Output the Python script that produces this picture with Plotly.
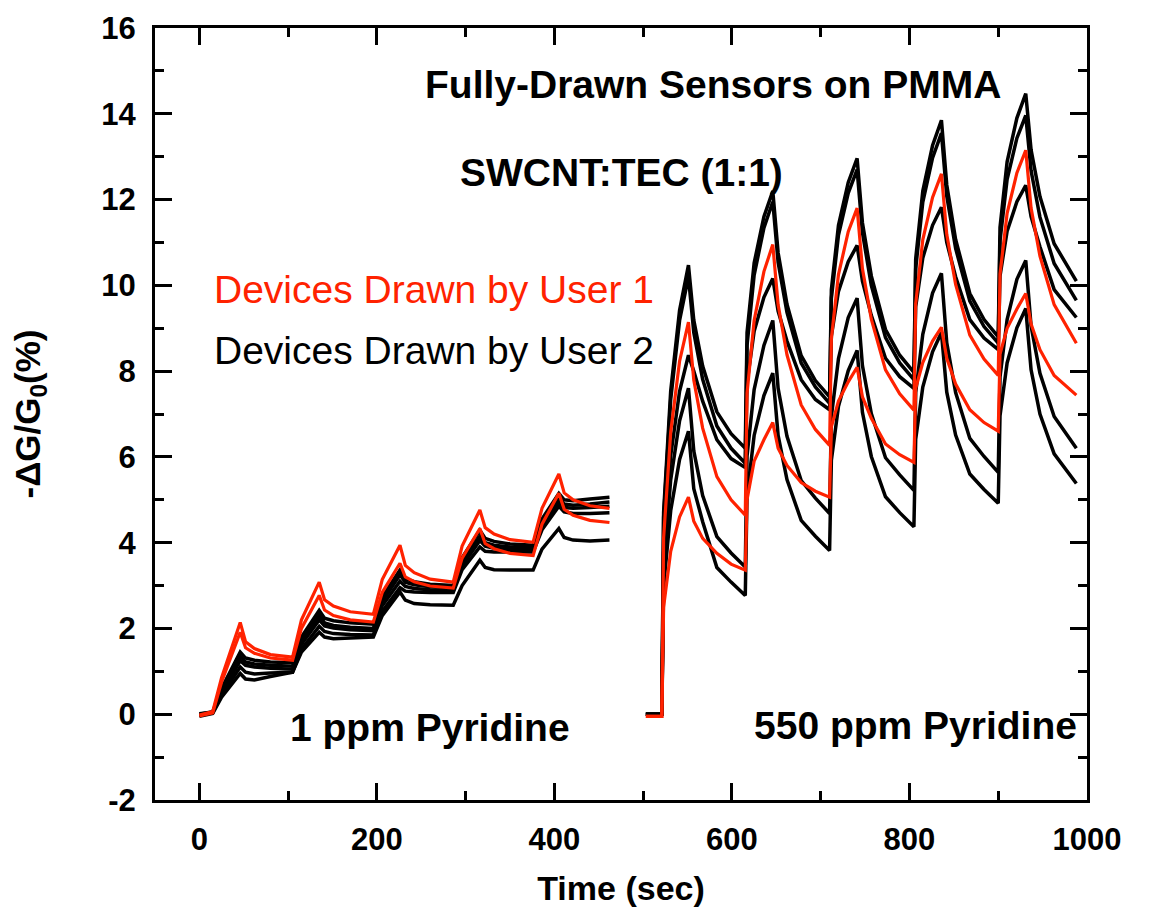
import plotly.graph_objects as go

# ---- 1 ppm pyridine run (time in sec, response in %) ----
t_1ppm = [0, 15, 25, 46, 52, 62, 80, 105, 115, 135, 141, 151, 170, 196, 206, 226, 232, 242, 260,
          286, 296, 316, 322, 332, 350, 376, 386, 405, 411, 421, 440, 462]

user1_a_1ppm = [-0.02, 0.06, 0.85, 2.14, 1.69, 1.53, 1.39, 1.33, 2.2, 3.08, 2.67, 2.52, 2.39, 2.33, 3.14, 3.94,
                3.47, 3.3, 3.15, 3.08, 3.92, 4.76, 4.35, 4.2, 4.07, 4.01, 4.8, 5.6, 5.16, 5.0, 4.86, 4.8]
user1_b_1ppm = [-0.04, 0.03, 0.75, 1.91, 1.55, 1.42, 1.31, 1.26, 2.0, 2.77, 2.43, 2.3, 2.2, 2.15, 2.84, 3.52,
                3.2, 3.09, 2.99, 2.94, 3.64, 4.33, 3.98, 3.86, 3.75, 3.7, 4.43, 5.15, 4.78, 4.64, 4.52, 4.47]
user2_a_1ppm = [0.0, 0.05, 0.6, 1.45, 1.31, 1.26, 1.22, 1.2, 1.8, 2.42, 2.24, 2.18, 2.13, 2.1, 2.73, 3.36,
                3.16, 3.09, 3.03, 3.0, 3.65, 4.29, 4.1, 4.03, 3.97, 3.94, 4.55, 5.15, 5.0, 4.98, 5.02, 5.06]
user2_b_1ppm = [-0.03, 0.04, 0.55, 1.35, 1.22, 1.17, 1.14, 1.12, 1.71, 2.3, 2.13, 2.07, 2.03, 2.0, 2.63, 3.25,
                3.08, 3.02, 2.97, 2.95, 3.55, 4.15, 4.0, 3.94, 3.9, 3.88, 4.47, 5.05, 4.9, 4.87, 4.9, 4.95]
user2_c_1ppm = [0.01, 0.05, 0.5, 1.25, 1.14, 1.1, 1.07, 1.05, 1.63, 2.2, 2.06, 2.01, 1.97, 1.95, 2.53, 3.1,
                2.98, 2.93, 2.9, 2.88, 3.46, 4.05, 3.92, 3.87, 3.84, 3.82, 4.38, 4.95, 4.82, 4.8, 4.82, 4.85]
user2_d_1ppm = [-0.02, 0.04, 0.45, 1.1, 0.98, 0.94, 0.96, 0.98, 1.52, 2.05, 1.93, 1.88, 1.86, 1.85, 2.4, 2.95,
                2.87, 2.85, 2.84, 2.84, 3.37, 3.9, 3.8, 3.78, 3.78, 3.78, 4.3, 4.85, 4.72, 4.68, 4.68, 4.7]
user2_e_1ppm = [-0.05, 0.02, 0.4, 0.95, 0.82, 0.8, 0.88, 0.98, 1.45, 1.91, 1.8, 1.76, 1.78, 1.8, 2.3, 2.85,
                2.66, 2.58, 2.55, 2.54, 3.0, 3.59, 3.42, 3.37, 3.36, 3.36, 3.85, 4.33, 4.12, 4.06, 4.04, 4.06]

# ---- 550 ppm pyridine run ----
t_550ppm = [503, 521, 523, 531, 541, 551, 557, 567, 583, 599,
            615, 617, 625, 636, 646, 652, 662, 678, 694,
            710, 712, 720, 731, 741, 747, 757, 773, 789,
            805, 807, 815, 826, 836, 842, 852, 868, 884,
            900, 902, 910, 921, 931, 937, 947, 963, 988]

user1_a_550ppm = [-0.05, -0.05, 4.11, 6.58, 8.23, 9.14, 7.79, 6.67, 5.54, 5.0,
                  4.64, 7.48, 9.18, 10.32, 10.95, 9.55, 8.38, 7.21, 6.64,
                  6.27, 8.76, 10.25, 11.25, 11.8, 10.39, 9.21, 8.03, 7.47,
                  7.09, 9.57, 11.06, 12.05, 12.6, 11.19, 10.02, 8.84, 8.28,
                  7.9, 10.26, 11.68, 12.62, 13.15, 11.8, 10.68, 9.55, 8.65]
user1_b_550ppm = [-0.05, -0.05, 2.5, 3.8, 4.6, 5.06, 4.5, 4.1, 3.75, 3.5,
                  3.36, 5.0, 5.9, 6.4, 6.8, 6.2, 5.8, 5.4, 5.2,
                  5.06, 6.7, 7.3, 7.75, 8.09, 7.4, 6.9, 6.3, 6.05,
                  5.87, 7.6, 8.2, 8.7, 9.02, 8.3, 7.7, 7.1, 6.8,
                  6.6, 8.4, 9.0, 9.45, 9.81, 9.1, 8.5, 7.9, 7.44]
user2_a_550ppm = [0, 0, 4.71, 7.54, 9.42, 10.47, 9.19, 8.12, 7.05, 6.54,
                  6.2, 8.9, 10.52, 11.6, 12.2, 10.76, 9.56, 8.36, 7.78,
                  7.4, 9.9, 11.4, 12.4, 12.96, 11.46, 10.22, 8.97, 8.37,
                  7.97, 10.62, 12.2, 13.26, 13.85, 12.34, 11.07, 9.81, 9.2,
                  8.8, 11.35, 12.88, 13.9, 14.47, 13.16, 12.07, 10.97, 10.1]
user2_b_550ppm = [0, 0, 4.59, 7.34, 9.18, 10.2, 8.9, 7.81, 6.72, 6.2,
                  5.85, 8.6, 10.24, 11.34, 11.95, 10.54, 9.37, 8.19, 7.63,
                  7.25, 9.7, 11.17, 12.15, 12.7, 11.23, 10.0, 8.78, 8.19,
                  7.8, 10.39, 11.94, 12.97, 13.55, 12.08, 10.86, 9.63, 9.04,
                  8.65, 11.04, 12.47, 13.43, 13.96, 12.67, 11.59, 10.51, 9.65]
user2_c_550ppm = [0, 0, 3.77, 6.03, 7.53, 8.37, 8.0, 7.3, 6.4, 5.96,
                  5.75, 7.73, 8.93, 9.72, 10.16, 9.4, 8.7, 7.8, 7.34,
                  7.1, 8.82, 9.86, 10.55, 10.93, 10.1, 9.3, 8.3, 7.87,
                  7.6, 9.5, 10.64, 11.4, 11.82, 11.0, 10.2, 9.2, 8.77,
                  8.5, 10.22, 11.26, 11.95, 12.33, 11.6, 10.9, 9.9, 9.25]
user2_d_550ppm = [0, 0, 3.42, 5.47, 6.84, 7.6, 6.14, 5.1, 4.14, 3.76,
                  3.43, 6.02, 7.57, 8.6, 9.18, 7.6, 6.48, 5.45, 5.04,
                  4.68, 6.94, 8.29, 9.25, 9.7, 8.13, 7.01, 5.98, 5.58,
                  5.22, 7.5, 8.86, 9.82, 10.28, 8.66, 7.5, 6.43, 6.01,
                  5.64, 7.86, 9.2, 10.14, 10.58, 9.05, 7.95, 6.94, 6.2]
user2_e_550ppm = [0, 0, 2.97, 4.75, 5.94, 6.6, 5.26, 4.49, 3.42, 3.08,
                  2.77, 5.1, 6.5, 7.43, 7.95, 6.5, 5.47, 4.52, 4.15,
                  3.82, 5.92, 7.18, 8.01, 8.48, 7.04, 6.01, 5.07, 4.7,
                  4.37, 6.41, 7.63, 8.45, 8.9, 7.51, 6.51, 5.6, 5.24,
                  4.92, 6.96, 8.19, 9.01, 9.46, 8.03, 7.0, 6.07, 5.38]

y_ticks = [-2, 0, 2, 4, 6, 8, 10, 12, 14, 16]
y_tick_labels = ["-2", "0", "2", "4", "6", "8", "10", "12", "14", "16"]

RED = "#ff2200"
BLACK = "#000000"
FONT = "Arial, Liberation Sans, sans-serif"

fig = go.Figure()

black_runs = [
    (t_1ppm, user2_a_1ppm), (t_1ppm, user2_b_1ppm), (t_1ppm, user2_c_1ppm),
    (t_1ppm, user2_d_1ppm), (t_1ppm, user2_e_1ppm),
    (t_550ppm, user2_a_550ppm), (t_550ppm, user2_b_550ppm), (t_550ppm, user2_c_550ppm),
    (t_550ppm, user2_d_550ppm), (t_550ppm, user2_e_550ppm),
]
red_runs = [
    (t_1ppm, user1_a_1ppm), (t_1ppm, user1_b_1ppm),
    (t_550ppm, user1_a_550ppm), (t_550ppm, user1_b_550ppm),
]

for t, y in black_runs:
    fig.add_trace(go.Scatter(x=t, y=y, mode="lines", line=dict(color=BLACK, width=3.5),
                             hoverinfo="skip"))
for t, y in red_runs:
    fig.add_trace(go.Scatter(x=t, y=y, mode="lines", line=dict(color=RED, width=3.2),
                             hoverinfo="skip"))

axis_common = dict(
    showline=True, linecolor="black", linewidth=3, mirror="ticks",
    ticks="inside", ticklen=17, tickwidth=2.5, tickcolor="black",
    showgrid=False, zeroline=False, automargin=False,
    tickfont=dict(family=FONT, size=31, color="black", weight="bold"),
    ticklabelstandoff=10,
)

fig.update_xaxes(
    range=[-50, 1000], dtick=200, tick0=0,
    minor=dict(dtick=100, ticks="inside", ticklen=9, tickwidth=2.5, tickcolor="black"),
    title=dict(text="Time (sec)", font=dict(family=FONT, size=34, color="black", weight="bold"),
               standoff=20),
    **axis_common,
)
fig.update_yaxes(
    range=[-2, 16], tickmode="array", tickvals=y_ticks, ticktext=y_tick_labels,
    minor=dict(dtick=1, ticks="inside", ticklen=9, tickwidth=2.5, tickcolor="black"),
    title=dict(text="-ΔG/G<sub>0</sub>(%)", font=dict(family=FONT, size=35, color="black", weight="bold"),
               standoff=56),
    **axis_common,
)

labels = [
    ("Fully-Drawn Sensors on PMMA", 0.599, 0.927, BLACK, "bold"),
    ("SWCNT:TEC (1:1)", 0.501, 0.813, BLACK, "bold"),
    ("Devices Drawn by User 1", 0.299, 0.661, RED, "normal"),
    ("Devices Drawn by User 2", 0.299, 0.582, BLACK, "normal"),
    ("1 ppm Pyridine", 0.295, 0.094, BLACK, "bold"),
    ("550 ppm Pyridine", 0.8165, 0.096, BLACK, "bold"),
]
for text, x, y, color, weight in labels:
    fig.add_annotation(x=x, y=y, xref="paper", yref="paper", text=text, showarrow=False,
                       xanchor="center", yanchor="middle",
                       font=dict(family=FONT, size=39, color=color, weight=weight))

# page body adds an 8px offset, so the figure is drawn 8px smaller
fig.update_layout(
    width=1143, height=901,
    margin=dict(l=147, r=64, t=20, b=109),
    paper_bgcolor="white", plot_bgcolor="white",
    showlegend=False,
    font=dict(family=FONT, color="black"),
)

fig.write_html("out.html")
